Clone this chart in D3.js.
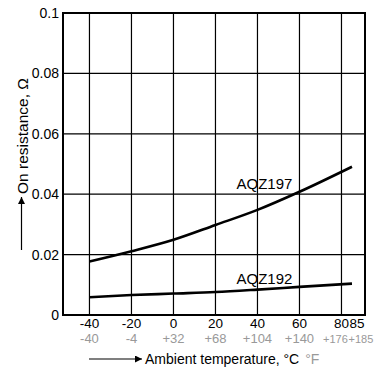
<!DOCTYPE html>
<html>
<head>
<meta charset="utf-8">
<script src="https://cdn.jsdelivr.net/npm/d3@7"></script>
<style>
  body { margin: 0; background: #fff; }
  svg { display: block; font-family: "Liberation Sans", Arial, sans-serif; }
</style>
</head>
<body>
<svg id="chart" width="384" height="372"></svg>
<script>
// temperatures (°C) the curves were read at
const temps = [-40, -20, 0, 20, 40, 60, 85];
const aqz197 = [0.0177, 0.0211, 0.0249, 0.0298, 0.0348, 0.0408, 0.0491];
const aqz192 = [0.0059, 0.0066, 0.0071, 0.0076, 0.0084, 0.0093, 0.0104];

const celsiusTicks = [-40, -20, 0, 20, 40, 60, 80, 85];
const fahrenheitLabels = ['-40', '-4', '+32', '+68', '+104', '+140', '+176', '+185'];
const yTicks = [0, 0.02, 0.04, 0.06, 0.08, 0.1];
const yTickLabels = ['0', '0.02', '0.04', '0.06', '0.08', '0.1'];

// series name, where its label sits (temp, value)
const seriesNames = ['AQZ197', 'AQZ192'];
const labelAt = [[30, 0.0418], [30, 0.0102]];

const svg = d3.select('#chart');
const plotL = 63, plotR = 365, plotT = 13, plotB = 315;

const x = d3.scaleLinear().domain([-52.6, 91.2]).range([plotL, plotR]);
const y = d3.scaleLinear().domain([0, 0.1]).range([plotB, plotT]);

// grid
const grid = svg.append('g');
grid.selectAll('line.v')
    .data(celsiusTicks.filter(d => d !== 85))
    .enter().append('line')
    .attr('x1', d => x(d)).attr('x2', d => x(d))
    .attr('y1', plotT).attr('y2', plotB)
    .attr('stroke', '#000').attr('stroke-width', 1.2);
grid.selectAll('line.h')
    .data(yTicks.slice(1, -1))
    .enter().append('line')
    .attr('x1', plotL).attr('x2', plotR)
    .attr('y1', d => y(d)).attr('y2', d => y(d))
    .attr('stroke', '#000').attr('stroke-width', 1.2);

// frame
svg.append('rect')
    .attr('x', plotL).attr('y', plotT)
    .attr('width', plotR - plotL).attr('height', plotB - plotT)
    .attr('fill', 'none').attr('stroke', '#000').attr('stroke-width', 2);

// y tick labels
svg.append('g').selectAll('text')
    .data(yTicks)
    .enter().append('text')
    .attr('x', plotL - 4)
    .attr('y', d => y(d) + 5)
    .attr('text-anchor', 'end')
    .attr('font-size', 14)
    .text((d, i) => yTickLabels[i]);

// x tick labels, °C and °F
const xl = svg.append('g');
xl.selectAll('text.c')
    .data(celsiusTicks)
    .enter().append('text')
    .attr('x', d => d === 85 ? x(80) + 8 : x(d))
    .attr('y', 328)
    .attr('text-anchor', d => d === 85 ? 'start' : 'middle')
    .attr('font-size', 13.5)
    .text(d => String(d));
xl.selectAll('text.f')
    .data(celsiusTicks)
    .enter().append('text')
    .attr('x', d => d === 85 ? x(80) + 7 : (d === 80 ? x(80) - 6 : x(d)))
    .attr('y', 343)
    .attr('text-anchor', d => d === 85 ? 'start' : 'middle')
    .attr('font-size', d => d >= 80 ? 11 : 13)
    .attr('fill', '#999')
    .text((d, i) => fahrenheitLabels[i]);

// curves
const line = d3.line()
    .x(d => x(d[0]))
    .y(d => y(d[1]))
    .curve(d3.curveMonotoneX);
[aqz197, aqz192].forEach(vals => {
  svg.append('path')
      .datum(temps.map((t, i) => [t, vals[i]]))
      .attr('d', line)
      .attr('fill', 'none')
      .attr('stroke', '#000')
      .attr('stroke-width', 2.6);
});

// series labels
seriesNames.forEach((name, i) => {
  svg.append('text')
      .attr('x', x(labelAt[i][0]))
      .attr('y', y(labelAt[i][1]))
      .attr('font-size', 15)
      .text(name);
});

// arrow marker
svg.append('defs').append('marker')
    .attr('id', 'arr')
    .attr('viewBox', '0 0 10 10')
    .attr('refX', 10).attr('refY', 5)
    .attr('markerWidth', 7).attr('markerHeight', 7)
    .attr('markerUnits', 'userSpaceOnUse')
    .attr('orient', 'auto')
    .append('path').attr('d', 'M0,0L10,5L0,10Z').attr('fill', '#000');

// x axis title
svg.append('line')
    .attr('x1', 89).attr('x2', 142).attr('y1', 359).attr('y2', 359)
    .attr('stroke', '#000').attr('stroke-width', 1.2)
    .attr('marker-end', 'url(#arr)');
const xt = svg.append('text').attr('x', 145).attr('y', 364).attr('font-size', 14);
xt.append('tspan').text('Ambient temperature, °C');
xt.append('tspan').attr('dx', 6).attr('fill', '#999').text('°F');

// y axis title
svg.append('line')
    .attr('x1', 21.5).attr('x2', 21.5).attr('y1', 250).attr('y2', 197)
    .attr('stroke', '#000').attr('stroke-width', 1.2)
    .attr('marker-end', 'url(#arr)');
svg.append('text')
    .attr('transform', 'translate(28,194) rotate(-90)')
    .attr('font-size', 15.5)
    .text('On resistance, Ω');
</script>
</body>
</html>
